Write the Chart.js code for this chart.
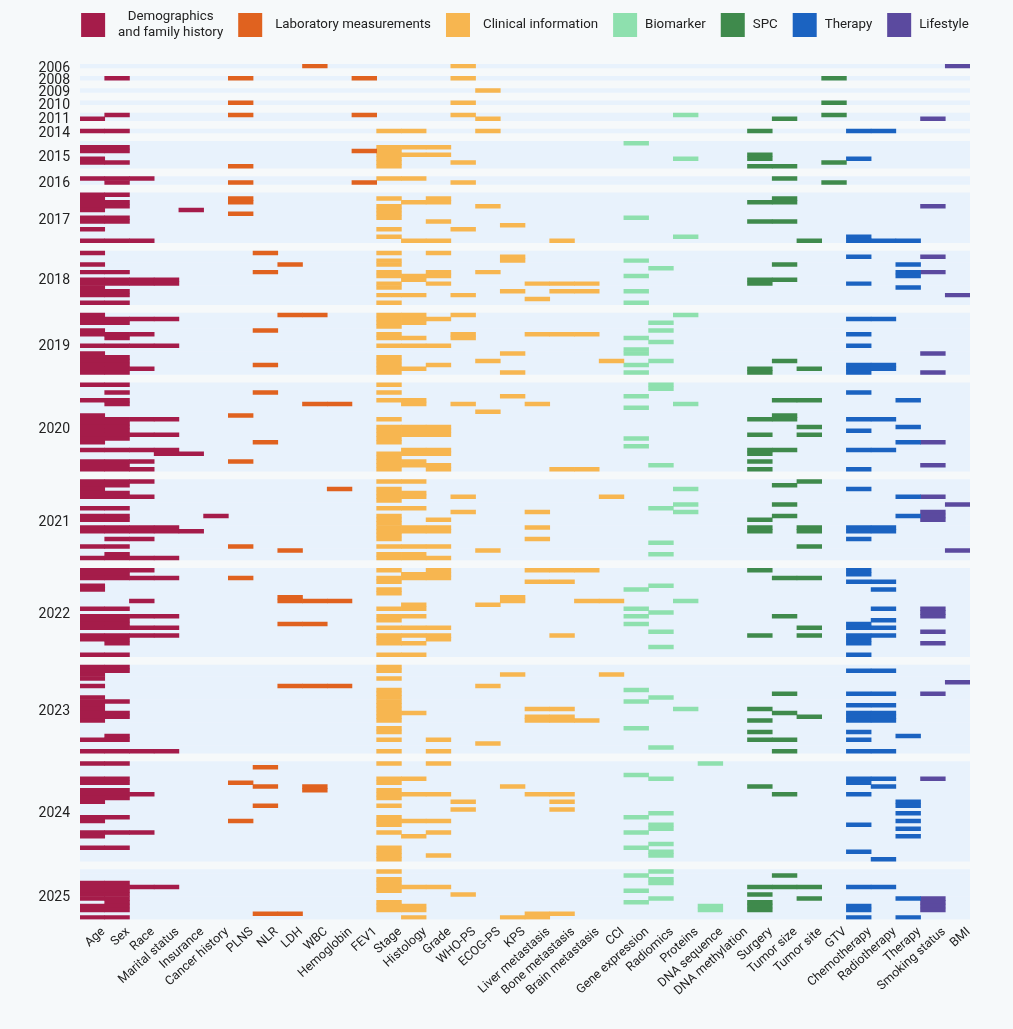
<!DOCTYPE html>
<html>
<head>
<meta charset="utf-8">
<script src="https://cdn.jsdelivr.net/npm/chart.js@4.4.1/dist/chart.umd.min.js"></script>
<style>
  html, body { margin: 0; padding: 0; background: #f6f9fa; }
  #wrap { width: 1013px; height: 1029px; position: relative; }
</style>
</head>
<body>
<div id="wrap"><canvas id="c"></canvas></div>
<script>
// ---- Data ----
const columns = ['Age','Sex','Race','Marital status','Insurance','Cancer history',
  'PLNS','NLR','LDH','WBC','Hemoglobin','FEV1',
  'Stage','Histology','Grade','WHO-PS','ECOG-PS','KPS','Liver metastasis','Bone metastasis','Brain metastasis','CCI',
  'Gene expression','Radiomics','Proteins','DNA sequence','DNA methylation',
  'Surgery','Tumor size','Tumor site','GTV',
  'Chemotherapy','Radiotherapy','Therapy',
  'Smoking status','BMI'];
const categories = ['Demographics and family history','Laboratory measurements','Clinical information','Biomarker','SPC','Therapy','Lifestyle'];
const categorySizes = [6, 6, 10, 5, 4, 3, 2];
const categoryColors = ['#a51c4a','#e0621f','#f7b650','#8ee0ae','#3f8a4c','#1b63c1','#5b4a9f'];
const years = ['2006','2008','2009','2010','2011','2014','2015','2016','2017','2018','2019','2020','2021','2022','2023','2024','2025'];

// each study row = list of used column indices
const y2006 = [[9,15,35]];
const y2008 = [[1,6,11,15,30]];
const y2009 = [[16]];
const y2010 = [[6,15,30]];
const y2011 = [[1,6,11,15,24,30],[0,16,28,34]];
const y2014 = [[0,1,12,13,16,27,31,32]];
const y2015 = [[22],[0,1,12,13,14],[0,1,11,12],[12,13,14,27],[0,12,24,27,31],[0,1,12,15,30],[6,12,27,28]];
const y2016 = [[0,1,2,12,13,28],[1,6,11,15,30]];
const y2017 = [[0,1],[0,6,12,14,28],[0,1,6,13,14,27,28],[0,1,12,16,34],[0,4,12],[6,12],[0,1,12,22],
  [0,1,14,27,28],[17],[0,12,15],[],[12,24,31],[0,1,2,13,14,19,29,31,32,33]];
const y2018 = [[0,7,12,14],[17,31,34],[12,17,22],[0,8,12,28,33],[23],[0,1,7,12,14,16,33,34],[12,13,14,22,33],
  [0,1,2,3,13,27,28],[0,1,2,3,12,14,18,19,20,27,31],[0,12,33],[0,1,17,19,20,22],[0,1,12,13,15,35],[18],[0,1,12,22]];
const y2019 = [[0,8,9,12,13,15,24],[0,1,2,3,12,13,14,31,32],[0,1,12,13,23],[12],[0,7,23],
  [0,1,2,12,15,18,19,20,31],[1,12,13,15,22],[23],[0,1,2,3,12,13,14,31],[22],[0,17,22,34],[0,1,12],
  [0,1,12,16,21,23,28],[0,1,7,12,14,22,31,32],[0,1,2,12,13,27,29,31,32],[0,1,12,17,22,27,31,34]];
const y2020 = [[0,1,12,23],[23],[1,7,12,31],[17,22],[0,1,12,13,28,29,33],[1,9,10,13,15,18,24],[22],[16],
  [0,6,28],[0,1,2,3,12,27,28,31,32],[0,1],[0,1,12,13,14,29,33],[0,1,12,13,14,31],[0,1,2,3,12,13,14,27,29],
  [0,1,12,22],[0,7,12,33,34],[22],[0,1,2,3,13,14,27,28,31,32],[3,4,12,13,14,27],[12],[0,1,2,6,12,13,27],
  [0,1,12,13,14,23,34],[0,1,2,12,14,19,20,27,31]];
const y2021 = [[0,1,2,12,13,29],[0,1,28],[0,10,12,24,31],[0,1,12,13],[0,1,2,12,13,15,21,33,34],[12],
  [24,28,35],[0,1,12,13,23],[15,18,24,34],[0,1,5,12,28,33,34],[0,1,12,14,27,34],[12],
  [0,1,2,3,12,13,14,18,27,29,31,32],[0,1,2,3,4,12,13,14,27,29,31,32],[12],[1,2,12,18,31],[23],
  [0,1,6,12,13,14,29],[8,16,35],[1,12,13,23],[0,1,2,3,12,13,14]];
const y2022 = [[0,1,2,12,14,18,19,20,27,31],[0,1,13,14,31],[0,1,2,3,6,12,13,14,28,29],[12,18,19,31,32],
  [0,23],[0,12,22,32],[12],[8,17],[2,8,9,10,17,20,21,24],[13,16],[0,1,12,13,22,32,34],[23,34],
  [0,1,2,3,12,13,22,28,34],[0,1,12,32],[0,1,8,9,22,31],[0,1,2,3,12,13,14,29,31,32],[23,34],
  [0,1,2,3,12,13,14,19,27,29,31,32],[0,1,12,14,31],[1,12,13,31,34],[23],[],[0,1,12,13,31]];
const y2023 = [[0,1,12],[0,1,12,31,32],[0,17,21],[0,12],[35],[0,8,9,10,16],[12,22],[12,28,31,32,34],
  [0,12,23],[0,1,12,22],[0,12,31,32],[0,12,18,19,24,27],[0,1,12,13,28,31,32],[0,1,12,18,19,29,31,32],
  [0,12,18,19,20,27,31,32],[],[12,22],[12,27,31],[1,33],[0,1,12,14,27,28,31],[16],[23],
  [0,1,2,3,12,14,28,31,32]];
const y2024 = [[0,1,12,14,25],[7],[],[22],[0,1,12,13,23,31,32,34],[0,1,6,12,31],[7,9,17,27,32],[0,1,9,12],
  [0,1,2,12,13,14,18,19,28,31],[0,1,12],[0,15,19,33],[7,12,33],[15,19],[23,33],[0,1,12,22],
  [0,6,12,13,14,33],[12,23,31],[23,33],[0,1,2,12,14,22],[0,13,33],[],[23],[0,1,12,22],[12,23,31],
  [12,14,23],[12,32]];
const y2025 = [[12,23],[22,28],[12,23],[0,1,12,23],[0,1,2,3,12,13,14,27,28,29,31,32],[0,1,12,22],
  [0,1,15,27],[0,1,23,29,33,34],[1,12,22,27,34],[0,1,12,13,25,27,31,34],[0,1,12,13,25,27,31,34],
  [7,8,18,19],[0,1,13,17,18,31,33]];
const yearRows = [y2006,y2008,y2009,y2010,y2011,y2014,y2015,y2016,y2017,y2018,y2019,y2020,y2021,y2022,y2023,y2024,y2025];

// ---- Build ----
const GAP = 2.2;
const colCategory = [];
categorySizes.forEach((n, ci) => { for (let k = 0; k < n; k++) colCategory.push(ci); });

const catData = categories.map(() => []);
const bgData = [];
const yearCenters = [];
let pos = 0;
yearRows.forEach((rows, gi) => {
  if (gi > 0) pos += GAP;
  const start = pos;
  rows.forEach(cells => {
    const yv = pos + 0.5;
    bgData.push({ x: [0, columns.length], y: yv });
    cells.forEach(c => catData[colCategory[c]].push({ x: [c, c + 1], y: yv }));
    pos += 1;
  });
  yearCenters.push((start + pos) / 2);
});
const totalUnits = pos;

const datasets = categories.map((name, i) => ({
  label: name,
  data: catData[i],
  backgroundColor: categoryColors[i],
  borderWidth: 0,
  order: 0
}));
datasets.push({ label: '__bg', data: bgData, backgroundColor: '#e8f2fc', borderWidth: 0, order: 10 });

const FONT = 'Roboto';

// Legend drawn in one row above the plot (first entry on two lines)
const topLegend = {
  id: 'topLegend',
  afterDraw(chart) {
    const ctx = chart.ctx;
    ctx.save();
    ctx.font = '13.3px ' + FONT;
    const items = categories.map((name, i) => {
      const lines = i === 0 ? ['Demographics', 'and family history'] : [name];
      const w = Math.max(...lines.map(l => ctx.measureText(l).width));
      return { lines, w, color: categoryColors[i], g1: i < 3 ? 13 : 8 };
    });
    const BOX = 24, G2 = 15;
    const total = items.reduce((s, it) => s + BOX + it.g1 + it.w, 0) + G2 * (items.length - 1);
    const ca = chart.chartArea;
    let x = (ca.left + ca.right) / 2 - total / 2;
    const cy = 25;
    items.forEach(it => {
      ctx.fillStyle = it.color;
      ctx.fillRect(x, cy - BOX / 2, BOX, BOX);
      ctx.fillStyle = '#222';
      ctx.textAlign = 'center';
      ctx.textBaseline = 'middle';
      const tx = x + BOX + it.g1 + it.w / 2;
      it.lines.forEach((l, li) => ctx.fillText(l, tx, cy + (li - (it.lines.length - 1) / 2) * 16));
      x += BOX + it.g1 + it.w + G2;
    });
    ctx.restore();
  }
};

new Chart(document.getElementById('c'), {
  type: 'bar',
  data: { datasets },
  plugins: [topLegend],
  options: {
    indexAxis: 'y',
    responsive: true,
    maintainAspectRatio: false,
    animation: false,
    layout: { padding: { top: 64, right: 43, bottom: 0, left: 0 } },
    datasets: { bar: { grouped: false, barPercentage: 1, categoryPercentage: 1 } },
    scales: {
      x: {
        type: 'linear', min: 0, max: columns.length, offset: false,
        grid: { display: false, drawTicks: false }, border: { display: false },
        afterBuildTicks: s => { s.ticks = columns.map((_, i) => ({ value: i + 0.5 })); },
        afterFit: s => { s.height = 109.5; },
        ticks: {
          autoSkip: false, minRotation: 42, maxRotation: 42, padding: 5, labelOffset: 11,
          color: '#222', font: { family: FONT, size: 12.5 },
          callback: (v, i) => columns[i]
        }
      },
      y: {
        type: 'linear', min: 0, max: totalUnits, reverse: true, offset: false,
        grid: { display: false, drawTicks: false }, border: { display: false },
        afterBuildTicks: s => { s.ticks = yearCenters.map(v => ({ value: v })); },
        afterFit: s => { s.width = 80; },
        ticks: {
          autoSkip: false, padding: 10, labelOffset: 2.5, color: '#222', font: { family: FONT, size: 14 },
          callback: (v, i) => years[i]
        }
      }
    },
    plugins: {
      tooltip: { enabled: false },
      legend: { display: false }
    }
  }
});
</script>
</body>
</html>
